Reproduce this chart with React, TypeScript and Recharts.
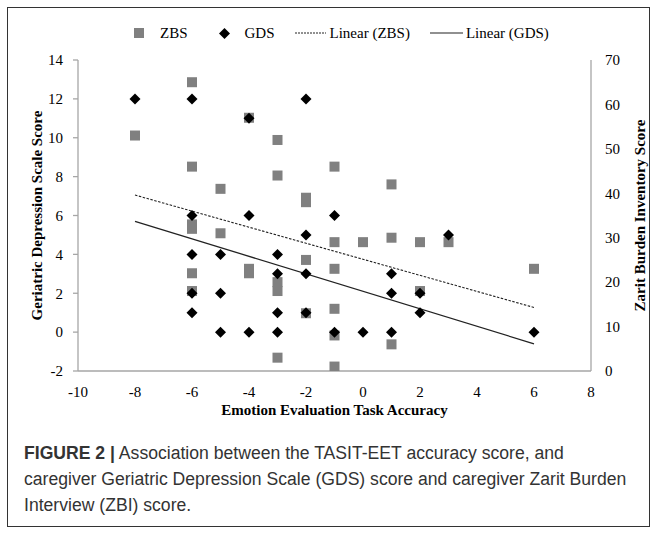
import React from 'react';
import { ScatterChart, Scatter, XAxis, YAxis, Legend } from 'recharts';

// GDS (left axis) points
const gdsX = [-8, -6, -6, -6, -6, -6, -5, -5, -5, -4, -4, -4, -3, -3, -3, -3, -2, -2, -2, -2, -1, -1, 0, 1, 1, 1, 2, 2, 3, 6];
const gdsY = [12, 12, 6, 4, 2, 1, 4, 2, 0, 11, 6, 0, 4, 3, 1, 0, 12, 5, 3, 1, 6, 0, 0, 3, 2, 0, 2, 1, 5, 0];

// ZBS (right axis) points
const zbsX = [-8, -6, -6, -6, -6, -6, -6, -5, -5, -4, -4, -4, -3, -3, -3, -3, -3, -2, -2, -2, -2, -1, -1, -1, -1, -1, -1, 0, 1, 1, 1, 2, 2, 3, 6];
const zbsY = [53, 65, 46, 33, 32, 22, 18, 41, 31, 57, 23, 22, 52, 44, 20, 18, 3, 39, 38, 25, 13, 46, 29, 23, 14, 8, 1, 29, 42, 30, 6, 29, 18, 29, 23];

// Linear trend endpoints
const zbsTrendX = [-8, 6];
const zbsTrendY = [39.6, 14.3];
const gdsTrendX = [-8, 6];
const gdsTrendY = [5.7, -0.6];

// Axis ticks
const xTicks = [-10, -8, -6, -4, -2, 0, 2, 4, 6, 8];
const leftTicks = [-2, 0, 2, 4, 6, 8, 10, 12, 14];
const rightTicks = [0, 10, 20, 30, 40, 50, 60, 70];

const toPts = (xs: number[], ys: number[]) => xs.map((x, i) => ({ x, y: ys[i] }));
const gdsData = toPts(gdsX, gdsY);
const zbsData = toPts(zbsX, zbsY);
const zbsTrend = toPts(zbsTrendX, zbsTrendY);
const gdsTrend = toPts(gdsTrendX, gdsTrendY);

const SERIF = '"Liberation Serif", "Times New Roman", serif';
const AXIS_GRAY = '#a6a6a6';
const SQUARE_FILL = '#808080';

const Square = (p: any) => {
  const { cx, cy } = p;
  if (cx == null || cy == null) return <g />;
  return <rect x={cx - 5} y={cy - 5} width={10} height={10} fill={SQUARE_FILL} />;
};

const Diamond = (p: any) => {
  const { cx, cy } = p;
  if (cx == null || cy == null) return <g />;
  const r = 5.5;
  return <polygon points={`${cx},${cy - r} ${cx + r},${cy} ${cx},${cy + r} ${cx - r},${cy}`} fill="#000" />;
};

const NoShape = () => <g />;

const LegendContent = () => {
  const text: React.CSSProperties = { fontFamily: SERIF, fontSize: 15, color: '#000', lineHeight: '18px' };
  return (
    <div style={{ display: 'flex', alignItems: 'center', height: 22, paddingLeft: 134 }}>
      <svg width={10} height={10}><rect x={0} y={0} width={10} height={10} fill={SQUARE_FILL} /></svg>
      <span style={{ ...text, marginLeft: 16 }}>ZBS</span>
      <svg width={11} height={11} style={{ marginLeft: 31 }}>
        <polygon points="5.5,0 11,5.5 5.5,11 0,5.5" fill="#000" />
      </svg>
      <span style={{ ...text, marginLeft: 15 }}>GDS</span>
      <svg width={31} height={4} style={{ marginLeft: 20 }}>
        <line x1={0} y1={2} x2={31} y2={2} stroke="#222" strokeWidth={1} strokeDasharray="2 1" />
      </svg>
      <span style={{ ...text, marginLeft: 4 }}>Linear (ZBS)</span>
      <svg width={33} height={4} style={{ marginLeft: 20 }}>
        <line x1={0} y1={2} x2={33} y2={2} stroke="#222" strokeWidth={1.2} />
      </svg>
      <span style={{ ...text, marginLeft: 3 }}>Linear (GDS)</span>
    </div>
  );
};

const LeftLabel = (props: any) => {
  const vb = props.viewBox || {};
  const x = (vb.x ?? 0) + 37;
  const y = (vb.y ?? 0) + (vb.height ?? 0) / 2;
  return (
    <text x={x} y={y} transform={`rotate(-90, ${x}, ${y})`} textAnchor="middle" dominantBaseline="central"
      style={{ fontFamily: SERIF }} fontSize={15} fontWeight="bold" fill="#000">
      Geriatric Depression Scale Score
    </text>
  );
};

const RightLabel = (props: any) => {
  const vb = props.viewBox || {};
  const x = (vb.x ?? 0) + 49;
  const y = (vb.y ?? 0) + (vb.height ?? 0) / 2;
  return (
    <text x={x} y={y} transform={`rotate(-90, ${x}, ${y})`} textAnchor="middle" dominantBaseline="central"
      style={{ fontFamily: SERIF }} fontSize={15} fontWeight="bold" fill="#000">
      Zarit Burden Inventory Score
    </text>
  );
};

const BottomLabel = (props: any) => {
  const vb = props.viewBox || {};
  const x = (vb.x ?? 0) + (vb.width ?? 0) / 2;
  const y = (vb.y ?? 0) + 39;
  return (
    <text x={x} y={y} textAnchor="middle" dominantBaseline="central"
      style={{ fontFamily: SERIF }} fontSize={15} fontWeight="bold" fill="#000">
      Emotion Evaluation Task Accuracy
    </text>
  );
};

const tickStyle = { fontFamily: SERIF, fontSize: 15, fill: '#000', style: { fontFamily: SERIF } };

export default function App() {
  return (
    <div style={{ position: 'absolute', left: 0, top: 0, width: 659, height: 536, background: '#fff', fontFamily: SERIF }}>
      <div style={{ position: 'absolute', left: 7, top: 7, width: 643, height: 520, border: '1px solid #333', boxSizing: 'border-box' }} />
      <div style={{ position: 'absolute', left: 0, top: 0 }}>
        <ScatterChart width={659} height={440} margin={{ top: 60, right: 0, bottom: 0, left: 0 }} style={{ fontFamily: SERIF }}>
          <XAxis type="number" dataKey="x" domain={[-10, 8]} ticks={xTicks} interval={0}
            axisLine={{ stroke: AXIS_GRAY, strokeWidth: 1.3 }} tickLine={false} tickSize={6} tickMargin={9}
            tick={tickStyle} height={69} allowDataOverflow label={BottomLabel} />
          <YAxis yAxisId="gds" type="number" dataKey="y" orientation="left" domain={[-2, 14]} ticks={leftTicks} interval={0}
            axisLine={{ stroke: AXIS_GRAY, strokeWidth: 1.3 }} tickLine={{ stroke: AXIS_GRAY, strokeWidth: 1.3 }} tickSize={5} tickMargin={10}
            tick={tickStyle} width={78} allowDataOverflow label={LeftLabel} />
          <YAxis yAxisId="zbs" type="number" dataKey="y" orientation="right" domain={[0, 70]} ticks={rightTicks} interval={0}
            axisLine={{ stroke: AXIS_GRAY, strokeWidth: 1.3 }} tickLine={false} tickSize={6} tickMargin={8}
            tick={tickStyle} width={68} allowDataOverflow label={RightLabel} />
          <Legend layout="horizontal" verticalAlign="middle" align="center" content={LegendContent}
            wrapperStyle={{ top: 22, left: 0, width: 659 }} />
          <Scatter name="ZBS" yAxisId="zbs" data={zbsData} shape={Square} isAnimationActive={false} />
          <Scatter name="Linear (ZBS)" yAxisId="zbs" data={zbsTrend} shape={NoShape}
            line={{ stroke: '#222', strokeWidth: 1.1, strokeDasharray: '2.5 1.5' }} isAnimationActive={false} />
          <Scatter name="Linear (GDS)" yAxisId="gds" data={gdsTrend} shape={NoShape}
            line={{ stroke: '#222', strokeWidth: 1.3 }} isAnimationActive={false} />
          <Scatter name="GDS" yAxisId="gds" data={gdsData} shape={Diamond} isAnimationActive={false} />
        </ScatterChart>
      </div>
      <div style={{ position: 'absolute', left: 24, top: 440, width: 625, fontFamily: '"Liberation Sans", Arial, sans-serif', fontSize: 17.6, lineHeight: '26px', color: '#333', whiteSpace: 'nowrap' }}>
        <span style={{ fontWeight: 'bold' }}>FIGURE 2 |</span> Association between the TASIT-EET accuracy score, and<br />
        caregiver Geriatric Depression Scale (GDS) score and caregiver Zarit Burden<br />
        Interview (ZBI) score.
      </div>
    </div>
  );
}
